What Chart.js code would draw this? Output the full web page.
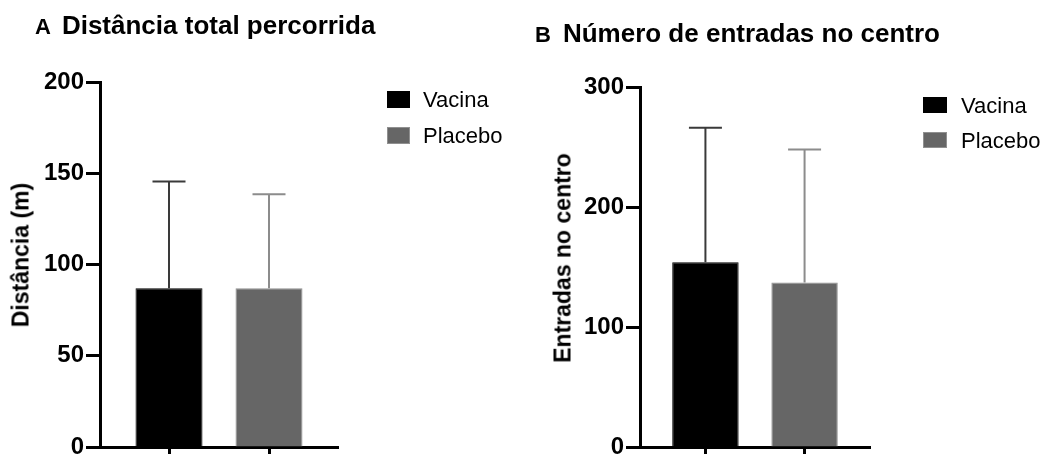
<!DOCTYPE html>
<html>
<head>
<meta charset="utf-8">
<script src="https://cdn.jsdelivr.net/npm/chart.js@4/dist/chart.umd.min.js"></script>
<style>
html,body{margin:0;padding:0;background:#fff;overflow:hidden;width:1047px;height:454px;}
#wrap{position:relative;width:1047px;height:454px;overflow:hidden;font-family:'Liberation Sans',Arial,sans-serif;color:#000;}
canvas{position:absolute;top:0;}
.title{position:absolute;font-weight:bold;font-size:26px;line-height:1;white-space:nowrap;}
.title .lt{font-size:22px;}
.ytitle{position:absolute;width:0;height:0;}
.ytitle span{position:absolute;left:0;top:0;transform:translate(-50%,-50%) rotate(-90deg);white-space:nowrap;font-weight:bold;font-size:23px;line-height:1;}
.sw{position:absolute;box-sizing:border-box;}
.lg{position:absolute;font-size:22px;line-height:1;white-space:nowrap;}
</style>
</head>
<body>
<div id="wrap">
  <canvas id="cA" width="520" height="500" style="left:0px;width:520px;height:500px"></canvas>
  <canvas id="cB" width="507" height="500" style="left:540px;width:507px;height:500px"></canvas>
</div>
<script>
// ---- data ----
const categories = ['Vacina', 'Placebo'];
const barColors = ['#000000', '#666666'];
const errorColors = ['#3a3a3a', '#8c8c8c'];

const titleA = ['A', 'Distância total percorrida'];
const yTitleA = 'Distância (m)';
const meansA = [87, 87];
const errorsA = [58.5, 51.5];
const ticksA = [0, 50, 100, 150, 200];

const titleB = ['B', 'Número de entradas no centro'];
const yTitleB = 'Entradas no centro';
const meansB = [154, 137];
const errorsB = [112, 111];
const ticksB = [0, 100, 200, 300];

Chart.defaults.font.family = "'Liberation Sans', Arial, sans-serif";
Chart.defaults.color = '#000';

const errorBars = {
  id: 'errorBars',
  afterDatasetsDraw(chart) {
    const ctx = chart.ctx;
    const yS = chart.scales.y;
    chart.data.datasets.forEach((ds, di) => {
      const meta = chart.getDatasetMeta(di);
      meta.data.forEach((bar, i) => {
        const top = yS.getPixelForValue(ds.means[i] + ds.errors[i]);
        const half = chart.options.plugins.errorBars.capWidth / 2;
        ctx.save();
        ctx.strokeStyle = ds.errorColors[i];
        ctx.lineWidth = 2;
        ctx.beginPath();
        ctx.moveTo(bar.x, bar.y);
        ctx.lineTo(bar.x, top);
        ctx.moveTo(bar.x - half, top);
        ctx.lineTo(bar.x + half, top);
        ctx.stroke();
        ctx.restore();
      });
    });
  }
};

function makeChart(id, means, errors, ticks, pad, padding) {
  const yMax = ticks[ticks.length - 1];
  return new Chart(document.getElementById(id), {
    type: 'bar',
    data: {
      datasets: [{
        data: means.map((v, i) => ({x: i, y: v})),
        means: means,
        errors: errors,
        errorColors: errorColors,
        backgroundColor: barColors,
        borderColor: ['#000000', '#909090'],
        borderWidth: 1,
        barPercentage: 0.67,
        categoryPercentage: 1
      }]
    },
    options: {
      responsive: false,
      devicePixelRatio: 1,
      animation: false,
      layout: {padding: padding},
      plugins: {
        legend: {display: false},
        tooltip: {enabled: false},
        title: {display: false},
        errorBars: {capWidth: 33}
      },
      scales: {
        x: {
          type: 'linear',
          min: -pad,
          max: categories.length - 1 + pad,
          offset: false,
          afterBuildTicks: s => { s.ticks = categories.map((c, i) => ({value: i})); },
          afterFit: s => { s.height = 53; },
          grid: {offset: false, drawOnChartArea: false, drawTicks: true, tickLength: 14, tickWidth: 3, tickColor: '#000'},
          border: {display: true, width: 3, color: '#000'},
          ticks: {
            callback: v => categories[v] ?? '',
            font: {size: 22, weight: 'bold'},
            color: '#000'
          }
        },
        y: {
          min: 0,
          max: yMax,
          afterBuildTicks: s => { s.ticks = ticks.map(v => ({value: v})); },
          afterFit: s => { s.width = 100; },
          grid: {drawOnChartArea: false, drawTicks: true, tickLength: 14, tickWidth: 3, tickColor: '#000'},
          border: {display: true, width: 3, color: '#000'},
          ticks: {
            padding: 2,
            font: {size: 24, weight: 'bold'},
            color: '#000'
          }
        }
      }
    },
    plugins: [errorBars]
  });
}

makeChart('cA', meansA, errorsA, ticksA, 0.69, {top: 82, right: 182, bottom: 0, left: 0});
makeChart('cB', meansB, errorsB, ticksB, 0.66, {top: 87, right: 177, bottom: 0, left: 0});

// ---- text: titles, axis titles, legends ----
const wrap = document.getElementById('wrap');
function addTitle(t, left, top, gap) {
  const d = document.createElement('div');
  d.className = 'title';
  d.style.left = left + 'px';
  d.style.top = top + 'px';
  const a = document.createElement('span');
  a.className = 'lt';
  a.style.marginRight = gap + 'px';
  a.textContent = t[0];
  const b = document.createElement('span');
  b.textContent = t[1];
  d.appendChild(a); d.appendChild(b);
  wrap.appendChild(d);
}
function addYTitle(t, cx, cy) {
  const d = document.createElement('div');
  d.className = 'ytitle';
  d.style.left = cx + 'px';
  d.style.top = cy + 'px';
  const s = document.createElement('span');
  s.textContent = t;
  d.appendChild(s);
  wrap.appendChild(d);
}
function addLegend(swLeft, swW, swH, swTops, textLeft, textTops) {
  categories.forEach((c, i) => {
    const sw = document.createElement('div');
    sw.className = 'sw';
    sw.style.left = swLeft + 'px';
    sw.style.top = swTops[i] + 'px';
    sw.style.width = swW + 'px';
    sw.style.height = swH + 'px';
    sw.style.background = barColors[i];
    if (i === 1) sw.style.border = '1px solid #909090';
    wrap.appendChild(sw);
    const t = document.createElement('div');
    t.className = 'lg';
    t.style.left = textLeft + 'px';
    t.style.top = textTops[i] + 'px';
    t.textContent = c;
    wrap.appendChild(t);
  });
}
addTitle(titleA, 35, 12, 11);
addTitle(titleB, 535, 20, 12);
addYTitle(yTitleA, 21, 255);
addYTitle(yTitleB, 563, 258);
addLegend(387, 23, 17, [91, 127], 423, [88.7, 124.7]);
addLegend(923, 24, 16, [97, 132], 961, [94.7, 129.7]);
</script>
</body>
</html>
